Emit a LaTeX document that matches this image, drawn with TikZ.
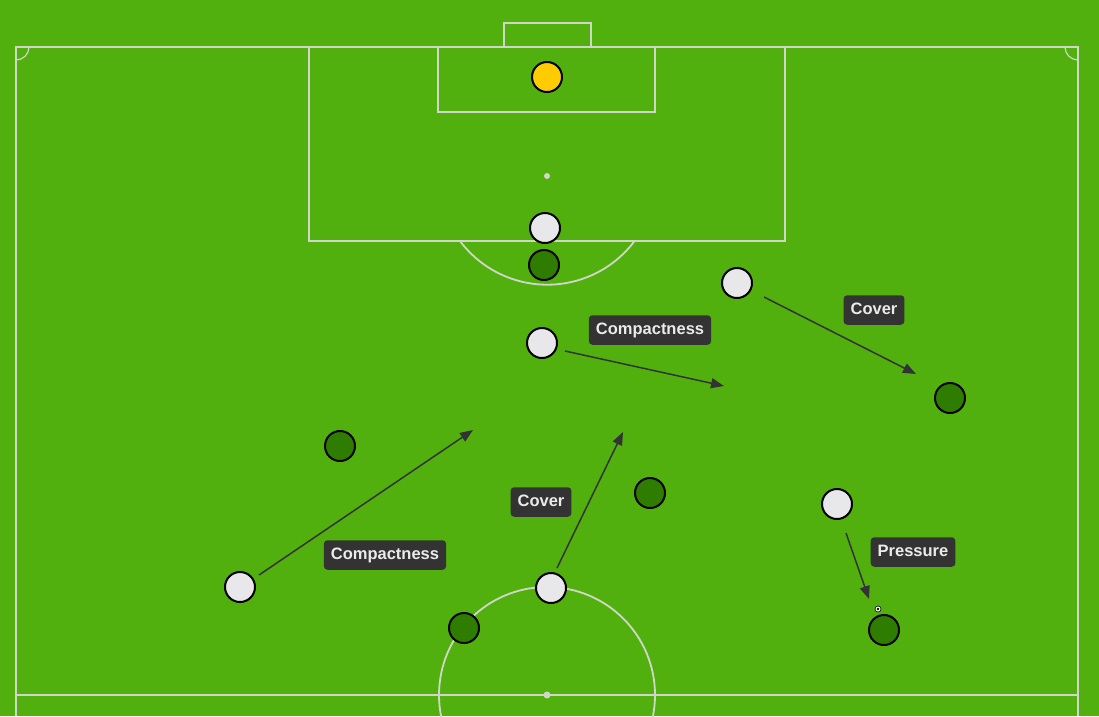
\documentclass[tikz,border=0pt]{standalone}
\usepackage{fontspec}
\setmainfont{Liberation Sans}
\usetikzlibrary{arrows.meta}
\definecolor{pitch}{RGB}{82,176,14}
\definecolor{pline}{RGB}{208,214,200}
\definecolor{dgreen}{RGB}{47,125,0}
\definecolor{wplayer}{RGB}{232,232,234}
\definecolor{gk}{RGB}{255,204,0}
\definecolor{tagbg}{RGB}{51,51,51}
\tikzset{
  fieldline/.style={draw=pline, line width=1.8pt},
  player/.style={circle, draw=black, line width=2pt, minimum size=30pt, inner sep=0pt},
  white/.style={player, fill=wplayer},
  opp/.style={player, fill=dgreen},
  keeper/.style={player, fill=gk},
  tag/.style={fill=tagbg, rounded corners=3.5pt, text=white!92!black, font=\bfseries\fontsize{16.5}{18}\selectfont, inner xsep=7pt, inner ysep=7pt, text height=12pt, text depth=3.5pt},
  move/.style={draw=tagbg, line width=1.5pt, -{Triangle[length=13pt,width=10pt]}}
}
\begin{document}
\begin{tikzpicture}[x=1pt,y=-1pt]
\useasboundingbox (0,0) rectangle (1099,716);
\fill[pitch] (0,0) rectangle (1099,716);
% pitch lines
\draw[fieldline] (16,716) -- (16,47) -- (1078,47) -- (1078,716);
\draw[fieldline] (16,695) -- (1078,695);
\draw[fieldline] (504,47) -- (504,23) -- (591,23) -- (591,47);
\draw[fieldline] (438,47) rectangle (655,112);
\draw[fieldline] (309,47) rectangle (785,241);
\fill[pline] (547,176) circle (3);
\draw[fieldline] (460,241) arc[start angle=143.2, end angle=36.8, radius=109];
\draw[fieldline] (547,695) circle (108);
\fill[pline] (547,695) circle (3.5);
\draw[fieldline, line width=1.2pt] (16,60) arc[start angle=90, end angle=0, radius=13];
\draw[fieldline, line width=1.2pt] (1065,47) arc[start angle=180, end angle=90, radius=13];
% players
\node[keeper] (gk) at (547,77) {};
\node[white] (w1) at (545,228) {};
\node[white] (w2) at (737,283) {};
\node[white] (w3) at (542,343) {};
\node[white] (w4) at (837,504) {};
\node[white] (w5) at (240,587) {};
\node[white] (w6) at (551,588) {};
\node[opp] (o1) at (544,265) {};
\node[opp] (o2) at (340,446) {};
\node[opp] (o3) at (950,398) {};
\node[opp] (o4) at (650,493) {};
\node[opp] (o5) at (464,628) {};
\node[opp] (o6) at (884,630) {};
% ball
\node[circle, fill=white, draw=black, line width=0.6pt, minimum size=6pt, inner sep=0pt] (ball) at (878,609) {};
\fill[black] (ball.center) circle (1.3);
% movement arrows
\coordinate (a1s) at (565,351); \coordinate (a1e) at (724,386);
\coordinate (a2s) at (764,297); \coordinate (a2e) at (916,374);
\coordinate (a3s) at (259,575); \coordinate (a3e) at (473,430);
\coordinate (a4s) at (557,568); \coordinate (a4e) at (623,432);
\coordinate (a5s) at (846,533); \coordinate (a5e) at (869,599);
\draw[move] (a1s) -- (a1e);
\draw[move] (a2s) -- (a2e);
\draw[move] (a3s) -- (a3e);
\draw[move] (a4s) -- (a4e);
\draw[move] (a5s) -- (a5e);
% labels
\node[tag] (t1) at (650,330) {Compactness};
\node[tag] (t2) at (874,310) {Cover};
\node[tag] (t3) at (541,502) {Cover};
\node[tag] (t4) at (385,555) {Compactness};
\node[tag] (t5) at (913,552) {Pressure};
\end{tikzpicture}
\end{document}
